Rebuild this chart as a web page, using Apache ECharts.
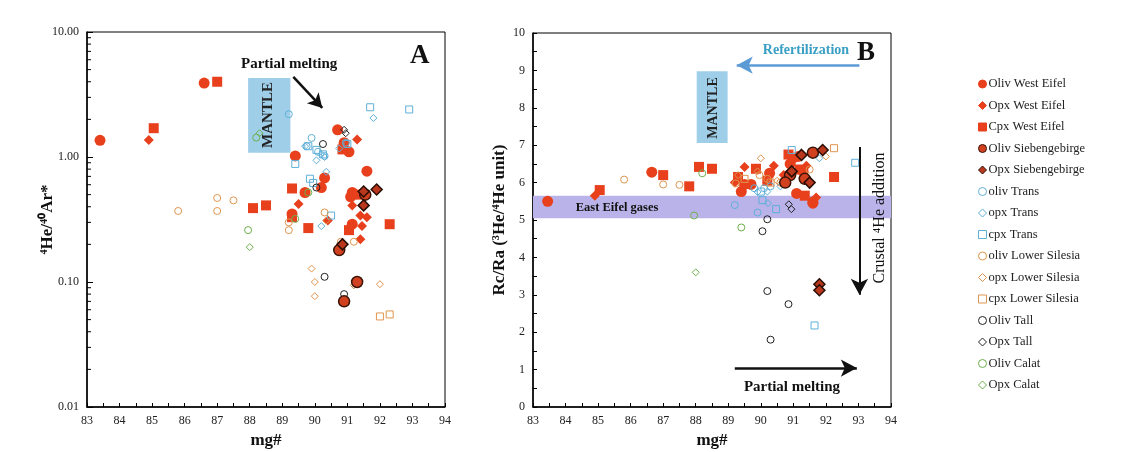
<!DOCTYPE html>
<html><head><meta charset="utf-8">
<script src="https://cdn.jsdelivr.net/npm/echarts@6/dist/echarts.min.js"></script>
<style>html,body{margin:0;padding:0;background:#fff}#c{width:1135px;height:452px}</style>
</head><body><div id="c"></div><script>
// ---------- Panel A: 4He/40Ar* vs mg# ----------
const olivWestEifelA = [[83.4,1.36],[86.6,3.9],[89.4,1.02],[90.7,1.65],[90.9,1.3],[91.05,1.1],[90.3,0.68],[90.2,0.57],[89.7,0.52],[91.6,0.77],[91.1,0.48],[91.15,0.52],[91.15,0.29],[89.3,0.35]];
const opxWestEifelA = [[84.9,1.37],[89.5,0.42],[91.3,1.38],[91.15,0.41],[91.4,0.34],[91.6,0.33],[91.45,0.28],[91.4,0.22],[90.4,0.31]];
const cpxWestEifelA = [[85.05,1.7],[87.0,4.0],[88.1,0.39],[88.5,0.41],[89.3,0.56],[89.8,0.27],[91.05,0.26],[92.3,0.29],[90.85,1.15],[91.3,0.5],[89.3,0.33]];
const olivSiebA = [[90.75,0.18],[91.3,0.1],[90.9,0.07],[91.55,0.5]];
const opxSiebA = [[91.5,0.53],[91.9,0.55],[91.5,0.41],[90.85,0.2]];
const olivTransA = [[89.2,2.2],[89.9,1.42],[90.1,1.1],[90.3,1.02],[90.95,1.3],[89.75,1.22]];
const opxTransA = [[91.8,2.05],[89.7,1.22],[90.05,0.94],[90.3,1.0],[90.35,0.76],[90.2,0.28],[90.75,1.17],[90.2,1.05]];
const cpxTransA = [[91.7,2.5],[92.9,2.4],[89.4,0.88],[89.85,0.67],[89.95,0.62],[90.05,1.14],[89.8,1.22],[90.5,0.34],[91.0,1.27],[90.25,1.05]];
const olivLowerSilesiaA = [[85.8,0.37],[87.0,0.47],[87.0,0.37],[87.5,0.45],[89.2,0.3],[89.2,0.26],[90.3,0.36],[91.2,0.21],[90.8,0.21]];
const opxLowerSilesiaA = [[89.9,0.128],[90.0,0.1],[90.0,0.077],[92.0,0.096],[91.2,0.094],[90.35,0.31]];
const cpxLowerSilesiaA = [[92.0,0.053],[92.3,0.055]];
const olivTallA = [[90.25,1.27],[90.05,0.57],[90.3,0.11],[90.9,0.08]];
const opxTallA = [[90.9,1.65],[90.95,1.55]];
const olivCalatA = [[87.95,0.26],[88.2,1.43],[89.4,0.32],[89.8,0.52]];
const opxCalatA = [[88.0,0.19],[88.3,1.55]];

// ---------- Panel B: Rc/Ra vs mg# ----------
const olivWestEifelB = [[83.45,5.5],[86.65,6.28],[89.4,5.76],[89.7,5.95],[90.27,6.25],[91.1,5.71],[91.6,5.48],[91.15,6.7],[90.9,6.5],[91.3,6.3],[89.5,5.95],[91.6,5.45]];
const opxWestEifelB = [[84.9,5.65],[89.5,6.42],[90.4,6.45],[91.7,5.6],[91.0,6.6],[90.7,6.2],[91.4,6.45],[89.2,6.0]];
const cpxWestEifelB = [[85.05,5.8],[87.0,6.2],[87.8,5.9],[88.1,6.42],[88.5,6.37],[89.3,6.15],[89.85,6.37],[90.85,6.75],[91.35,5.65],[92.25,6.15],[90.2,6.05],[91.2,6.35]];
const olivSiebB = [[91.6,6.8],[90.9,6.2],[90.75,6.0],[91.35,6.1]];
const opxSiebB = [[91.9,6.87],[91.25,6.74],[91.5,6.0],[91.8,3.28],[91.8,3.12],[90.95,6.3]];
const olivTransB = [[89.2,5.4],[89.9,5.2],[89.8,5.85],[90.1,5.85],[90.3,5.9]];
const opxTransB = [[90.22,5.45],[91.8,6.65],[90.2,5.76],[89.9,5.75],[90.6,5.9]];
const cpxTransB = [[92.9,6.53],[90.95,6.87],[90.05,5.53],[90.47,5.29],[91.65,2.18],[90.0,5.76]];
const olivLowerSilesiaB = [[85.8,6.08],[87.0,5.95],[87.5,5.94],[89.23,5.98],[89.96,6.2],[90.6,6.0],[91.5,6.35],[90.2,6.1]];
const opxLowerSilesiaB = [[90.0,6.65],[92.0,6.7],[89.9,6.3],[90.5,6.05],[89.3,6.2]];
const cpxLowerSilesiaB = [[92.25,6.92],[89.5,6.1],[90.3,6.0]];
const olivTallB = [[90.2,5.02],[90.05,4.7],[90.2,3.1],[90.85,2.75],[90.3,1.8]];
const opxTallB = [[90.86,5.42],[90.94,5.29]];
const olivCalatB = [[87.95,5.12],[89.4,4.8],[88.2,6.25]];
const opxCalatB = [[88.0,3.6]];

// axis ticks / labels
const logMinorTicks = [0.02,0.03,0.04,0.05,0.06,0.07,0.08,0.09,0.2,0.3,0.4,0.5,0.6,0.7,0.8,0.9,2,3,4,5,6,7,8,9];

const RED = '#e8401c';
const HOLLOW = 'rgba(255,255,255,0)';
const defs = [
 {name:'Oliv West Eifel', sym:'circle', size:11, fill:RED, stroke:RED, bw:0, a:olivWestEifelA, b:olivWestEifelB},
 {name:'Opx West Eifel', sym:'diamond', size:10, fill:RED, stroke:RED, bw:0, a:opxWestEifelA, b:opxWestEifelB},
 {name:'Cpx West Eifel', sym:'rect', size:10, fill:RED, stroke:RED, bw:0, a:cpxWestEifelA, b:cpxWestEifelB},
 {name:'Oliv Siebengebirge', sym:'circle', size:11, fill:'#d2411f', stroke:'#3b1408', bw:1.5, a:olivSiebA, b:olivSiebB},
 {name:'Opx Siebengebirge', sym:'diamond', size:11, fill:'#b8371d', stroke:'#2b0e06', bw:1.5, a:opxSiebA, b:opxSiebB},
 {name:'oliv Trans', sym:'circle', size:7, fill:HOLLOW, stroke:'#5fb0d8', bw:1, a:olivTransA, b:olivTransB},
 {name:'opx Trans', sym:'diamond', size:7, fill:HOLLOW, stroke:'#5fb0d8', bw:1, a:opxTransA, b:opxTransB},
 {name:'cpx Trans', sym:'rect', size:7, fill:HOLLOW, stroke:'#5fb0d8', bw:1, a:cpxTransA, b:cpxTransB},
 {name:'oliv Lower Silesia', sym:'circle', size:7, fill:HOLLOW, stroke:'#e0954f', bw:1, a:olivLowerSilesiaA, b:olivLowerSilesiaB},
 {name:'opx Lower Silesia', sym:'diamond', size:7, fill:HOLLOW, stroke:'#e0954f', bw:1, a:opxLowerSilesiaA, b:opxLowerSilesiaB},
 {name:'cpx Lower Silesia', sym:'rect', size:7, fill:HOLLOW, stroke:'#e0954f', bw:1, a:cpxLowerSilesiaA, b:cpxLowerSilesiaB},
 {name:'Oliv Tall', sym:'circle', size:7, fill:HOLLOW, stroke:'#222222', bw:1, a:olivTallA, b:olivTallB},
 {name:'Opx Tall', sym:'diamond', size:7, fill:HOLLOW, stroke:'#222222', bw:1, a:opxTallA, b:opxTallB},
 {name:'Oliv Calat', sym:'circle', size:7, fill:HOLLOW, stroke:'#6db04a', bw:1, a:olivCalatA, b:olivCalatB},
 {name:'Opx Calat', sym:'diamond', size:7, fill:HOLLOW, stroke:'#6db04a', bw:1, a:opxCalatA, b:opxCalatB}
];

const FONT = 'Liberation Serif';
const series = [];
defs.forEach(d => {
  [0,1].forEach(i => {
    series.push({
      type:'scatter', name:d.name, xAxisIndex:i, yAxisIndex:i,
      data: i===0 ? d.a : d.b,
      symbol:d.sym, symbolSize:d.size,
      itemStyle:{color:d.fill, borderColor:d.stroke, borderWidth:d.bw, opacity:1},
      z: d.bw>1 ? 5 : (d.fill===RED ? 3 : 4),
      emphasis:{disabled:true}
    });
  });
});

// log minor ticks on panel A left axis
series.push({
  type:'custom', xAxisIndex:0, yAxisIndex:0, silent:true, z:10,
  data: logMinorTicks.map(v => [83, v]),
  renderItem: (params, api) => {
    const p = api.coord([83, api.value(1)]);
    return {type:'line', shape:{x1:p[0], y1:p[1], x2:p[0]+4, y2:p[1]}, style:{stroke:'#000', lineWidth:1}};
  }
});

const solid = (c, w) => ({color:c, width:w, type:'solid'});
// panel A annotations (mantle box + arrow)
series.push({
  type:'scatter', xAxisIndex:0, yAxisIndex:0, data:[], silent:true,
  markArea:{silent:true, itemStyle:{color:'#9fcfe8'}, data:[[{coord:[87.95,4.28]},{coord:[89.25,1.08]}]]},
  markLine:{silent:true, symbol:['none','arrow'], symbolSize:[12,14], lineStyle:solid('#111',2.5), label:{show:false},
    data:[[{coord:[89.34,4.37], lineStyle:solid('#111',2.5)},{coord:[90.23,2.47]}]]}
});
// panel B annotations
series.push({
  type:'scatter', xAxisIndex:1, yAxisIndex:1, data:[], silent:true, z:1,
  markArea:{silent:true, data:[
    [{coord:[83,5.05], itemStyle:{color:'#bab3ea'}},{coord:[94,5.65]}],
    [{coord:[88.03,8.98], itemStyle:{color:'#9fcfe8'}},{coord:[88.98,7.06]}]
  ]},
  markLine:{silent:true, symbol:['none','arrow'], symbolSize:[13,16], lineStyle:solid('#111',2), label:{show:false},
    data:[
      [{coord:[93.03,6.95], lineStyle:solid('#111',2)},{coord:[93.03,3.0]}],
      [{coord:[89.2,1.04], lineStyle:solid('#111',2.5)},{coord:[92.95,1.04]}],
      [{coord:[93.03,9.14], lineStyle:solid('#5b9bd5',2.5)},{coord:[89.26,9.14]}]
    ]}
});

function xAxis(i){
  return {type:'value', gridIndex:i, min:83, max:94, interval:1,
    name:'mg#', nameLocation:'middle', nameGap:25, nameMoveOverlap:false,
    nameTextStyle:{fontFamily:FONT, fontWeight:'bold', fontSize:17, color:'#111'},
    axisLine:{onZero:false, lineStyle:{color:'#000', width:1.5}},
    axisTick:{inside:true, length:4, lineStyle:{color:'#000'}},
    minorTick:{show:true, splitNumber:2, length:4, lineStyle:{color:'#000'}},
    axisLabel:{fontFamily:FONT, fontSize:12, color:'#222', margin:8},
    splitLine:{show:false}};
}

const option = {
  backgroundColor:'#fff',
  animation:false,
  grid:[
    {left:87, top:32, width:358, height:375, show:true, borderColor:'#000', borderWidth:1, outerBoundsMode:'none', containLabel:false},
    {left:533, top:33, width:358, height:374, show:true, borderColor:'#000', borderWidth:1, outerBoundsMode:'none', containLabel:false}
  ],
  xAxis:[xAxis(0), xAxis(1)],
  yAxis:[
    {type:'log', gridIndex:0, logBase:10, min:0.01, max:10,
     name:'⁴He/⁴⁰Ar*', nameLocation:'middle', nameGap:31, nameRotate:90, nameMoveOverlap:false,
     nameTextStyle:{fontFamily:FONT, fontWeight:'bold', fontSize:17, color:'#111'},
     axisLine:{lineStyle:{color:'#000', width:1.5}},
     axisTick:{inside:true, length:6, lineStyle:{color:'#000'}},
     axisLabel:{fontFamily:FONT, fontSize:12, color:'#222', formatter:v=>Number(v).toFixed(2)},
     splitLine:{show:false}},
    {type:'value', gridIndex:1, min:0, max:10, interval:1,
     name:'Rc/Ra (³He/⁴He unit)', nameLocation:'middle', nameGap:25, nameRotate:90, nameMoveOverlap:false,
     nameTextStyle:{fontFamily:FONT, fontWeight:'bold', fontSize:17, color:'#111'},
     axisLine:{lineStyle:{color:'#000', width:1.5}},
     axisTick:{inside:true, length:4, lineStyle:{color:'#000'}},
     minorTick:{show:true, splitNumber:2, length:4, lineStyle:{color:'#000'}},
     axisLabel:{fontFamily:FONT, fontSize:12, color:'#222'},
     splitLine:{show:false}}
  ],
  legend:{
    orient:'vertical', left:973, top:72, itemWidth:8, itemHeight:8, itemGap:7.5,
    data: defs.map(d=>d.name),
    itemStyle:{borderWidth:1},
    textStyle:{fontFamily:FONT, fontSize:12.5, color:'#222', lineHeight:14, padding:[0,0,0,-3]},
    selectedMode:false
  },
  graphic:[
    {type:'text', left:410, top:43, z:100, style:{text:'A', font:'bold 27px "Liberation Serif"', fill:'#111'}},
    {type:'text', left:241, top:57, z:100, style:{text:'Partial melting', font:'bold 15px "Liberation Serif"', fill:'#111'}},
    {type:'text', x:268, y:115, rotation:Math.PI/2, z:100, style:{text:'MANTLE', font:'bold 15px "Liberation Serif"', fill:'#222', align:'center', verticalAlign:'middle'}},
    {type:'text', x:866, y:53, z:100, style:{text:'B', font:'bold 27px "Liberation Serif"', fill:'#111', align:'center', verticalAlign:'middle'}},
    {type:'text', x:806, y:50, z:100, style:{text:'Refertilization', font:'bold 14px "Liberation Serif"', fill:'#3a9fc4', align:'center', verticalAlign:'middle'}},
    {type:'text', x:713, y:108, rotation:Math.PI/2, z:100, style:{text:'MANTLE', font:'bold 14px "Liberation Serif"', fill:'#222', align:'center', verticalAlign:'middle'}},
    {type:'text', x:617, y:208, z:100, style:{text:'East Eifel gases', font:'bold 12.5px "Liberation Serif"', fill:'#111', align:'center', verticalAlign:'middle'}},
    {type:'text', x:880, y:218, rotation:Math.PI/2, z:100, style:{text:'Crustal ⁴He addition', font:'16px "Liberation Serif"', fill:'#111', align:'center', verticalAlign:'middle'}},
    {type:'text', x:792, y:387, z:100, style:{text:'Partial melting', font:'bold 15px "Liberation Serif"', fill:'#111', align:'center', verticalAlign:'middle'}}
  ],
  series
};
const chart = echarts.init(document.getElementById('c'), null, {renderer:'canvas'});
chart.setOption(option);
</script></body></html>
